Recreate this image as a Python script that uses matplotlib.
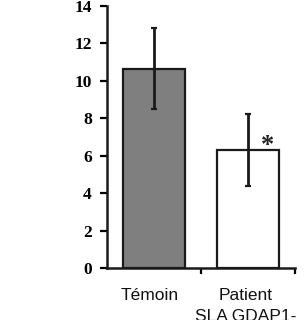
import numpy as np
import matplotlib.pyplot as plt

groups = ['Témoin', 'Patient\nSLA GDAP1-']
means = [10.65, 6.3]
errors = [2.15, 1.9]
colors = ['#7f7f7f', 'white']
yticks = [0, 2, 4, 6, 8, 10, 12, 14]

fig = plt.figure(figsize=(3.05, 3.2), dpi=100)
ax = fig.add_axes([0.351, 0.1625, 0.616, 0.819])

x = np.arange(len(groups))
ax.bar(x, means, width=0.66, color=colors, edgecolor='#1a1a1a', linewidth=1.6)
ax.errorbar(x, means, yerr=errors, fmt='none', ecolor='#1a1a1a',
            elinewidth=2.0, capsize=2, capthick=1.6)
ax.text(1.21, 6.55, '*', ha='center', va='center', fontsize=19,
        fontfamily='Liberation Serif', fontweight='bold', color='#222222')

ax.set_xlim(-0.5, 1.5)
ax.set_ylim(0, 14)
ax.set_yticks(yticks)
ax.set_yticklabels([str(t) for t in yticks], fontfamily='Liberation Serif',
                   fontweight='bold', fontsize=12.5)
ax.set_xticks([0.5, 1.5])
ax.set_xticklabels([])
ax.tick_params(axis='y', direction='out', length=5, width=1.6, pad=6)
ax.tick_params(axis='x', direction='out', length=4, width=1.6)
# group labels, slightly left of bar centres as in the original
offsets = [-0.05, -0.02]
for i, g in enumerate(groups):
    ax.text(x[i] + offsets[i], -1.05, g, ha='center', va='top',
            fontsize=12.5, fontfamily='Liberation Sans', linespacing=1.5,
            color='#111111')

for s in ['top', 'right']:
    ax.spines[s].set_visible(False)
for s in ['left', 'bottom']:
    ax.spines[s].set_linewidth(1.8)
    ax.spines[s].set_color('#1a1a1a')

fig.savefig('out.png', dpi=100)
